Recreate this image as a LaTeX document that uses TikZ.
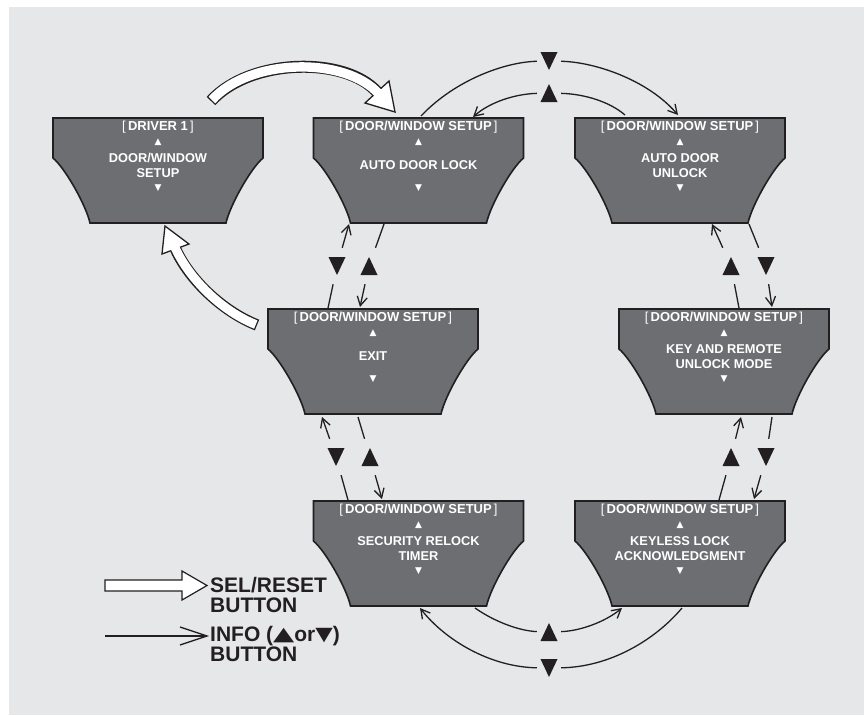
\documentclass[tikz,border=0pt]{standalone}
\usepackage{fontspec}
\setmainfont{Liberation Sans}
\newfontfamily\dvs{DejaVu Sans}
\usetikzlibrary{arrows.meta,calc}
\definecolor{bg}{HTML}{E6E7E8}
\definecolor{scrc}{HTML}{6D6E71}
\definecolor{ink}{HTML}{231F20}
\newcommand\hd[1]{{\mdseries[}\,#1\,{\mdseries]}}
\newcommand\scrn[5]{%
 \filldraw[scrshape] (#2-105,#3) -- (#2+105,#3) -- (#2+105,#3+40) .. controls (#2+93,#3+50) and (#2+72,#3+87) .. (#2+68,#3+105) -- (#2-68,#3+105) .. controls (#2-72,#3+87) and (#2-93,#3+50) .. (#2-105,#3+40) -- cycle;
 \node[scr] (#1) at (#2,#3+52.5) {};
 \node[hdr] (#1-h) at (#2,#3+9.5) {#4};
 \node[stri] (#1-u) at (#2,#3+24) {▲};
 \node[mtxt] (#1-t) at (#2,#3+47.5) {#5};
 \node[stri] (#1-d) at (#2,#3+70) {▼};
}
\begin{document}
\begin{tikzpicture}[x=1pt,y=-1pt,
 scrshape/.style={fill=scrc, draw=ink, line width=1.6pt, line join=miter},
 scr/.style={minimum width=210pt, minimum height=105pt, inner sep=0pt, draw=none},
 hdr/.style={text=white, font=\fontsize{13}{13}\selectfont\bfseries, inner sep=0pt},
 mtxt/.style={text=white, font=\fontsize{12.8}{15.8}\selectfont\bfseries, align=center, inner sep=0pt},
 stri/.style={text=white, font=\dvs\fontsize{9}{9}\selectfont, inner sep=0pt},
 tnode/.style={minimum width=24pt, minimum height=36pt, inner sep=0pt},
 conn/.style={draw=ink, line width=1.3pt},
 arr/.style={conn, -{Straight Barb[length=9pt,width=10pt]}},
 legend/.style={text=ink, font=\fontsize{21}{21}\selectfont\bfseries, inner sep=0pt, anchor=base west},
 hollow/.style={fill=white, draw=ink, line width=1.3pt, line join=miter}]
\useasboundingbox (0,0) rectangle (864,715);
\fill[white] (0,0) rectangle (864,715);
\fill[bg] (9,7) rectangle (864,715);

% screens
\scrn{drv}{158}{118}{\hd{DRIVER 1}}{DOOR/WINDOW\\SETUP}
\scrn{alock}{418.5}{118}{\hd{DOOR/WINDOW SETUP}}{AUTO DOOR LOCK}
\scrn{aunlock}{680}{118}{\hd{DOOR/WINDOW SETUP}}{AUTO DOOR\\UNLOCK}
\scrn{exit}{373}{309}{\hd{DOOR/WINDOW SETUP}}{EXIT}
\scrn{krem}{724}{309}{\hd{DOOR/WINDOW SETUP}}{KEY AND REMOTE\\UNLOCK MODE}
\scrn{secr}{418.5}{501}{\hd{DOOR/WINDOW SETUP}}{SECURITY RELOCK\\TIMER}
\scrn{kless}{680}{501}{\hd{DOOR/WINDOW SETUP}}{KEYLESS LOCK\\ACKNOWLEDGMENT}

% triangle marker nodes
\node[tnode] (tt1) at (549,61) {};
\node[tnode] (tt2) at (549,93) {};
\node[tnode] (bt1) at (549,632) {};
\node[tnode] (bt2) at (549,668) {};
\node[tnode] (l1) at (337,266) {};
\node[tnode] (l2) at (369,266) {};
\node[tnode] (l3) at (336,457) {};
\node[tnode] (l4) at (370,457) {};
\node[tnode] (r1) at (731,266) {};
\node[tnode] (r2) at (766,266) {};
\node[tnode] (r3) at (731,457) {};
\node[tnode] (r4) at (766,457) {};
\foreach \n in {tt2,bt1,l2,l4,r1,r3}
 \fill[ink] ([shift={(-8.5,9)}]\n.center) -- ([shift={(8.5,9)}]\n.center) -- ([shift={(0,-9)}]\n.center) -- cycle;
\foreach \n in {tt1,bt2,l1,l3,r2,r4}
 \fill[ink] ([shift={(-8.5,-9)}]\n.center) -- ([shift={(8.5,-9)}]\n.center) -- ([shift={(0,9)}]\n.center) -- cycle;

% free ends of connectors
\coordinate (c1) at (421,116);  \coordinate (c2) at (678,115);
\coordinate (c3) at (625,115);  \coordinate (c4) at (473,117);
\coordinate (c5) at (475,608);  \coordinate (c6) at (622,608);
\coordinate (c7) at (682,608);  \coordinate (c8) at (420,608);
\coordinate (d1) at (328,308);  \coordinate (d2) at (349,224);
\coordinate (d3) at (384,224);  \coordinate (d4) at (360,307);
\coordinate (d5) at (348,500);  \coordinate (d6) at (322,417);
\coordinate (d7) at (358,417);  \coordinate (d8) at (382,499);
\coordinate (e1) at (739,308);  \coordinate (e2) at (712,224);
\coordinate (e3) at (749,224);  \coordinate (e4) at (772,307);
\coordinate (e5) at (719,500);  \coordinate (e6) at (741,417);
\coordinate (e7) at (772,417);  \coordinate (e8) at (754,499);

% top arcs
\draw[conn] (c1) .. controls (455,80) and (505,62) .. (tt1);
\draw[arr] (tt1) .. controls (595,62) and (648,80) .. (c2);
\draw[conn] (c3) .. controls (610,102) and (585,94) .. (tt2);
\draw[arr] (tt2) .. controls (515,94) and (490,102) .. (c4);
% bottom arcs
\draw[conn] (c5) .. controls (495,622) and (520,631) .. (bt1);
\draw[arr] (bt1) .. controls (580,631) and (605,622) .. (c6);
\draw[conn] (c7) .. controls (655,640) and (610,667) .. (bt2);
\draw[arr] (bt2) .. controls (490,667) and (445,640) .. (c8);
% left column
\draw[conn] (d1) -- (l1); \draw[arr] (l1) -- (d2);
\draw[conn] (d3) -- (l2); \draw[arr] (l2) -- (d4);
\draw[conn] (d5) -- (l3); \draw[arr] (l3) -- (d6);
\draw[conn] (d7) -- (l4); \draw[arr] (l4) -- (d8);
% right column
\draw[conn] (e1) -- (r1); \draw[arr] (r1) -- (e2);
\draw[conn] (e3) -- (r2); \draw[arr] (r2) -- (e4);
\draw[conn] (e5) -- (r3); \draw[arr] (r3) -- (e6);
\draw[conn] (e7) -- (r4); \draw[arr] (r4) -- (e8);

% hollow SEL/RESET arrows
\draw[ink, line width=12pt] (211,101) .. controls (250,58) and (345,56) .. (377,92);
\filldraw[hollow] (395,112) -- (365,103) -- (389,81) -- cycle;
\draw[white, line width=9.4pt, shorten <=1.3pt] (211,101) .. controls (250,58) and (345,56) .. (379,94);

\draw[ink, line width=11.5pt] (257,325) .. controls (224,312) and (190,281) .. (175.5,249);
\filldraw[hollow] (165,226) -- (162,254) -- (189,244) -- cycle;
\draw[white, line width=8.9pt, shorten <=1.3pt] (257,325) .. controls (224,312) and (190,281) .. (174.5,246.5);

% legend
\filldraw[hollow, line width=1.2pt] (105,580) -- (182,580) -- (182,571) -- (207,585.5) -- (182,600) -- (182,591) -- (105,591) -- cycle;
\coordinate (g1) at (105,636); \coordinate (g2) at (207,636);
\draw[conn] (g1) -- (g2);
\draw[conn, line join=miter] (180,627) -- (g2) -- (180,645);
\node[legend] (lg1) at (210,592) {SEL/RESET};
\node[legend] (lg2) at (210,612) {BUTTON};
\node[legend] (lg3) at (210,641) {INFO (\raisebox{0.5pt}{\dvs\fontsize{19}{19}\selectfont\scalebox{1.45}[1]{▲}}or\raisebox{0.5pt}{\dvs\fontsize{19}{19}\selectfont\scalebox{1.2}[1]{▼}})};
\node[legend] (lg4) at (210,661) {BUTTON};
\end{tikzpicture}
\end{document}
